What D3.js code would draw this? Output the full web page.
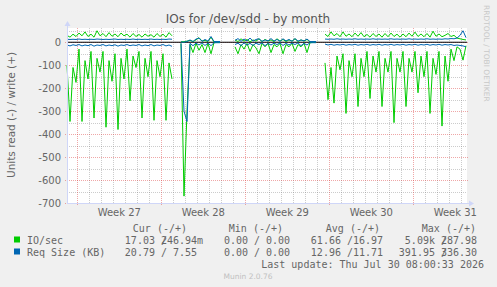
<!DOCTYPE html>
<html>
<head>
<meta charset="utf-8">
<script src="https://cdn.jsdelivr.net/npm/d3@7/dist/d3.min.js"></script>
<style>
    body { margin: 0; background: #f0f0f0; }
    svg { display: block; font-family: "DejaVu Sans", sans-serif; }
    .mono { font-family: "DejaVu Sans Mono", monospace; font-size: 10px; fill: #666; }
</style>
</head>
<body>
<svg id="chart"></svg>
<script>
// Samples every 6 hours, starting at the left edge of the graph (null = no data)
const startTime = new Date(2026, 5, 28, 3, 24);
const stepHours = 6;

// IO/sec, read (drawn below zero) and write
const ioRead = [100, 345, 110, 175, 30, 345, 80, 160, 40, 330, 70, 130, 40, 370, 80, 170, 50, 380, 70, 160, 30, 255, 60, 110, 40, 330, 70, 150, 40, 340, 80, 150, 50, 340, 90, 160,
    null, null,
    5, 670, 300, 10, 45, 5, 35, 10, 45, 5, 50, 2, 1, 1,
    null, null, null, null,
    20, 50, 10, 30, 5, 40, 10, 25, 50, 5, 20, 5, 45, 10, 20, 5, 50, 10, 20, 5, 40, 10, 20, 5, 45, 2, 1, 1,
    null, null,
    90, 250, 110, 265, 60, 120, 50, 310, 80, 150, 50, 280, 70, 150, 40, 245, 60, 130, 40, 280, 70, 130, 40, 350, 70, 130, 40, 280, 70, 130, 40, 220, 60, 150, 40, 310, 70, 140, 40, 365, 60, 170, 30, 80, 20, 30, 78, 15];
const ioWrite = [30, 22, 35, 25, 40, 28, 45, 25, 35, 22, 50, 28, 38, 24, 42, 26, 36, 24, 40, 28, 35, 22, 38, 25, 34, 22, 36, 26, 33, 22, 38, 25, 35, 22, 42, 28,
    null, null,
    2, 2, 5, 8, 3, 10, 20, 5, 8, 3, 22, 1, 1, 1,
    null, null, null, null,
    10, 3, 15, 5, 12, 2, 10, 5, 15, 3, 12, 5, 10, 3, 15, 5, 12, 3, 10, 5, 15, 3, 10, 5, 12, 1, 1, 1,
    null, null,
    35, 25, 45, 28, 38, 24, 45, 26, 36, 24, 40, 26, 42, 24, 34, 22, 38, 25, 36, 22, 38, 24, 40, 25, 35, 22, 36, 24, 40, 26, 44, 25, 36, 24, 38, 22, 48, 26, 36, 24, 30, 38, 25, 30, 18, 15, 12, 10];

// Req Size (KB), read and write
const reqRead = [12, 16, 11, 14, 10, 16, 12, 15, 10, 17, 12, 14, 10, 16, 12, 15, 11, 17, 12, 14, 10, 15, 12, 14, 10, 16, 12, 15, 10, 16, 12, 14, 10, 16, 12, 18,
    null, null,
    5, 300, 345, 5, 15, 4, 12, 3, 14, 4, 15, 2, 2, 2,
    null, null, null, null,
    10, 4, 15, 3, 12, 5, 14, 4, 10, 3, 15, 5, 12, 4, 10, 3, 14, 5, 12, 4, 10, 3, 15, 5, 12, 2, 2, 2,
    null, null,
    8, 12, 9, 13, 10, 12, 9, 13, 10, 12, 9, 13, 10, 12, 9, 13, 10, 12, 9, 13, 10, 12, 9, 13, 10, 12, 9, 13, 10, 12, 9, 13, 10, 12, 9, 13, 10, 12, 9, 13, 10, 12, 10, 14, 12, 14, 16, 20];
const reqWrite = [13, 12, 13, 12, 14, 12, 13, 12, 13, 12, 14, 13, 12, 13, 12, 13, 14, 12, 13, 12, 13, 12, 14, 12, 13, 12, 13, 12, 14, 12, 13, 12, 13, 12, 14, 13,
    null, null,
    1, 0, 3, 10, 3, 14, 18, 4, 12, 5, 25, 3, 3, 3,
    null, null, null, null,
    8, 16, 4, 14, 6, 18, 5, 12, 15, 4, 10, 6, 16, 5, 12, 4, 15, 6, 12, 4, 16, 5, 10, 6, 14, 3, 3, 3,
    null, null,
    14, 13, 14, 13, 15, 13, 14, 13, 14, 13, 15, 13, 14, 13, 14, 13, 15, 13, 14, 13, 14, 13, 15, 13, 14, 13, 14, 13, 15, 13, 14, 13, 14, 13, 15, 13, 14, 13, 14, 13, 15, 14, 16, 15, 18, 30, 50, 20];

// y axis ticks
const yTicks = [0, -100, -200, -300, -400, -500, -600, -700];

// Legend
const legendNames = ["IO/sec", "Req Size (KB)"];
const legendColors = ["#00cc00", "#0066b3"];
const columnNames = ["Cur (-/+)", "Min (-/+)", "Avg (-/+)", "Max (-/+)"];
const curRead = ["17.03", "20.79"], curWrite = ["246.94m", "7.55"];
const minRead = ["0.00", "0.00"], minWrite = ["0.00", "0.00"];
const avgRead = ["61.66", "12.96"], avgWrite = ["16.97", "11.71"];
const maxRead = ["5.09k", "391.95"], maxWrite = ["287.98", "336.30"];

let width = 497, height = 287;
let plot = { left: 67, right: 467, top: 28, bottom: 203 };

let svg = d3.select('#chart')
    .attr('width', width)
    .attr('height', height)
    .style('background', '#f0f0f0');

// Scales
const endTime = d3.timeHour.offset(startTime, 800);
let xScale = d3.scaleTime()
    .domain([startTime, endTime])
    .range([plot.left, plot.right]);

let yScale = d3.scaleLinear()
    .domain([-700, 62])
    .range([plot.bottom, plot.top]);

const times = ioRead.map((d, i) => d3.timeHour.offset(startTime, i * stepHours));

// Title
svg.append('text')
    .attr('x', 248)
    .attr('y', 23)
    .attr('text-anchor', 'middle')
    .style('font-size', '12px')
    .style('fill', '#555')
    .text('IOs for /dev/sdd - by month');

// Canvas
svg.append('rect')
    .attr('x', plot.left)
    .attr('y', plot.top)
    .attr('width', plot.right - plot.left)
    .attr('height', plot.bottom - plot.top)
    .attr('fill', '#fff');

// Grid lines
const minorColor = 'rgba(128,128,128,0.4)';
const majorColor = 'rgba(220,60,60,0.45)';

let grid = svg.append('g').attr('shape-rendering', 'crispEdges');

const minorY = d3.range(-650, 62, 100);
grid.selectAll('.ymin')
    .data(minorY)
    .enter().append('line')
    .attr('x1', plot.left).attr('x2', plot.right)
    .attr('y1', d => Math.round(yScale(d)) + 0.5)
    .attr('y2', d => Math.round(yScale(d)) + 0.5)
    .attr('stroke', minorColor)
    .attr('stroke-dasharray', '1,1');

const days = d3.timeDay.range(startTime, endTime).filter(d => d.getDay() !== 1);
grid.selectAll('.xmin')
    .data(days)
    .enter().append('line')
    .attr('x1', d => Math.round(xScale(d)) + 0.5)
    .attr('x2', d => Math.round(xScale(d)) + 0.5)
    .attr('y1', plot.top).attr('y2', plot.bottom)
    .attr('stroke', minorColor)
    .attr('stroke-dasharray', '1,1');

grid.selectAll('.ymaj')
    .data(yTicks)
    .enter().append('line')
    .attr('x1', plot.left - 2).attr('x2', plot.right + 2)
    .attr('y1', d => Math.round(yScale(d)) + 0.5)
    .attr('y2', d => Math.round(yScale(d)) + 0.5)
    .attr('stroke', majorColor)
    .attr('stroke-dasharray', '1,1');

const mondays = d3.timeMonday.range(startTime, endTime);
grid.selectAll('.xmaj')
    .data(mondays)
    .enter().append('line')
    .attr('x1', d => Math.round(xScale(d)) + 0.5)
    .attr('x2', d => Math.round(xScale(d)) + 0.5)
    .attr('y1', plot.top).attr('y2', plot.bottom + 2)
    .attr('stroke', majorColor)
    .attr('stroke-dasharray', '1,1');

// Zero line
svg.append('line')
    .attr('x1', plot.left).attr('x2', plot.right)
    .attr('y1', yScale(0)).attr('y2', yScale(0))
    .attr('stroke', '#000')
    .attr('stroke-width', 1);

// Series
const line = d3.line()
    .defined(d => d[1] != null)
    .x(d => xScale(d[0]))
    .y(d => yScale(d[1]));

function drawSeries(values, sign, color) {
    const pts = values.map((v, i) => [times[i], v == null ? null : sign * v]);
    svg.append('path')
        .datum(pts)
        .attr('d', line)
        .attr('fill', 'none')
        .attr('stroke', color)
        .attr('stroke-width', 1);
}

drawSeries(ioRead, -1, legendColors[0]);
drawSeries(ioWrite, 1, legendColors[0]);
drawSeries(reqRead, -1, legendColors[1]);
drawSeries(reqWrite, 1, legendColors[1]);

// Axes with arrows
const axisColor = '#cfd6f8';
svg.append('line')
    .attr('x1', plot.left + 0.5).attr('x2', plot.left + 0.5)
    .attr('y1', plot.bottom).attr('y2', plot.top - 3)
    .attr('stroke', axisColor);
svg.append('line')
    .attr('x1', plot.left).attr('x2', plot.right + 3)
    .attr('y1', plot.bottom + 0.5).attr('y2', plot.bottom + 0.5)
    .attr('stroke', axisColor);
svg.append('path')
    .attr('d', `M${plot.left - 2.5},${plot.top - 2} L${plot.left + 3.5},${plot.top - 2} L${plot.left + 0.5},${plot.top - 7} Z`)
    .attr('fill', axisColor);
svg.append('path')
    .attr('d', `M${plot.right + 2},${plot.bottom - 2.5} L${plot.right + 2},${plot.bottom + 3.5} L${plot.right + 7},${plot.bottom + 0.5} Z`)
    .attr('fill', axisColor);

// Y tick labels
svg.selectAll('.ylab')
    .data(yTicks)
    .enter().append('text')
    .attr('x', 61)
    .attr('y', d => yScale(d) + 3.5)
    .attr('text-anchor', 'end')
    .style('font-size', '10px')
    .style('fill', '#666')
    .text(d => d);

// Week labels, centred in each week
svg.selectAll('.xlab')
    .data(mondays)
    .enter().append('text')
    .attr('x', d => xScale(d3.timeHour.offset(d, 84)))
    .attr('y', 216)
    .attr('text-anchor', 'middle')
    .style('font-size', '10px')
    .style('fill', '#666')
    .text(d3.timeFormat('Week %V'));

// Y axis title
svg.append('text')
    .attr('transform', 'translate(15,115) rotate(-90)')
    .attr('text-anchor', 'middle')
    .style('font-size', '10.5px')
    .style('fill', '#666')
    .text('Units read (-) / write (+)');

// Watermark
svg.append('text')
    .attr('transform', 'translate(484,5) rotate(90)')
    .style('font-size', '7.5px')
    .style('fill', '#c8c8c8')
    .text('RRDTOOL / TOBI OETIKER');

// Legend
const charW = 6.02;
const slashEnd = [167, 260, 353, 447];
const headerEnd = [187, 283, 380, 476];
const readCols = [curRead, minRead, avgRead, maxRead];
const writeCols = [curWrite, minWrite, avgWrite, maxWrite];

svg.selectAll('.colname')
    .data(columnNames)
    .enter().append('text')
    .attr('class', 'mono')
    .attr('x', (d, i) => headerEnd[i])
    .attr('y', 231.5)
    .attr('text-anchor', 'end')
    .text(d => d);

legendNames.forEach((name, r) => {
    const y = 243.5 + r * 12;

    svg.append('rect')
        .attr('x', 14)
        .attr('y', y - 7)
        .attr('width', 6)
        .attr('height', 6)
        .attr('fill', legendColors[r]);

    svg.append('text')
        .attr('class', 'mono')
        .attr('x', 27)
        .attr('y', y)
        .text(name);

    readCols.forEach((col, c) => {
        svg.append('text')
            .attr('class', 'mono')
            .attr('x', slashEnd[c])
            .attr('y', y)
            .attr('text-anchor', 'end')
            .text(col[r] + '\u00a0/');

        // write value: 6 wide number, unit hangs after it
        const w = writeCols[c][r];
        const num = w.replace(/[a-zA-Z]$/, '');
        svg.append('text')
            .attr('class', 'mono')
            .attr('x', slashEnd[c] - 6 + (6 - num.length) * charW)
            .attr('y', y)
            .text(w);
    });
});

svg.append('text')
    .attr('class', 'mono')
    .attr('x', 484)
    .attr('y', 268)
    .attr('text-anchor', 'end')
    .text('Last update: Thu Jul 30 08:00:33 2026');

svg.append('text')
    .attr('x', 248)
    .attr('y', 279)
    .attr('text-anchor', 'middle')
    .style('font-size', '7.5px')
    .style('fill', '#c0c0c0')
    .text('Munin 2.0.76');
</script>
</body>
</html>
